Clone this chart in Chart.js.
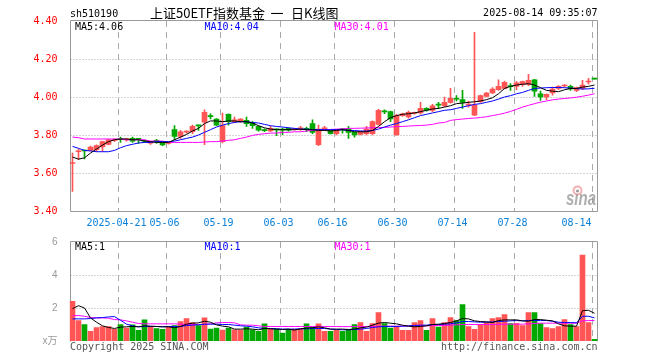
<!DOCTYPE html>
<html><head><meta charset="utf-8">
<script src="https://cdn.jsdelivr.net/npm/chart.js@4/dist/chart.umd.min.js"></script>
<style>
html,body{margin:0;padding:0;background:#fff;}
#wrap{position:relative;width:660px;height:360px;overflow:hidden;background:#fff;}
canvas{position:absolute;left:0;}
#cPrice{top:0;}
#cVol{top:232px;}
</style></head><body>
<div id="wrap"><canvas id="cPrice" width="660" height="232"></canvas><canvas id="cVol" width="660" height="128"></canvas></div>
<script>
// ---------- data ----------
const dates = ['2025-04-09','2025-04-10','2025-04-11','2025-04-14','2025-04-15','2025-04-16','2025-04-17','2025-04-18','2025-04-21','2025-04-22','2025-04-23','2025-04-24','2025-04-25','2025-04-28','2025-04-29','2025-04-30',
'2025-05-06','2025-05-07','2025-05-08','2025-05-09','2025-05-12','2025-05-13','2025-05-14','2025-05-15','2025-05-16','2025-05-19','2025-05-20','2025-05-21','2025-05-22','2025-05-23','2025-05-26','2025-05-27','2025-05-28','2025-05-29','2025-05-30',
'2025-06-03','2025-06-04','2025-06-05','2025-06-06','2025-06-09','2025-06-10','2025-06-11','2025-06-12','2025-06-13','2025-06-16','2025-06-17','2025-06-18','2025-06-19','2025-06-20','2025-06-23','2025-06-24','2025-06-25','2025-06-26','2025-06-27','2025-06-30',
'2025-07-01','2025-07-02','2025-07-03','2025-07-04','2025-07-07','2025-07-08','2025-07-09','2025-07-10','2025-07-11','2025-07-14','2025-07-15','2025-07-16','2025-07-17','2025-07-18','2025-07-21','2025-07-22','2025-07-23','2025-07-24','2025-07-25','2025-07-28','2025-07-29','2025-07-30','2025-07-31',
'2025-08-01','2025-08-04','2025-08-05','2025-08-06','2025-08-07','2025-08-08','2025-08-11','2025-08-12','2025-08-13','2025-08-14'];

const open = [3.650,3.712,3.719,3.719,3.723,3.737,3.751,3.771,3.777,3.774,
3.782,3.779,3.769,3.757,3.769,3.761,3.756,3.828,3.793,3.815,
3.817,3.850,3.867,3.900,3.884,3.765,3.909,3.870,3.871,3.877,
3.863,3.845,3.826,3.822,3.829,3.829,3.835,3.830,3.828,3.832,
3.860,3.749,3.828,3.824,3.807,3.829,3.831,3.814,3.803,3.807,
3.807,3.856,3.924,3.923,3.800,3.902,3.895,3.914,3.916,3.940,
3.930,3.959,3.954,3.972,3.990,3.986,3.957,3.905,3.975,4.003,
4.021,4.038,4.045,4.057,4.056,4.066,4.066,4.091,4.017,4.000,
4.021,4.045,4.058,4.056,4.035,4.045,4.079,4.096];

const high = [3.705,3.726,3.721,3.742,3.748,3.768,3.779,3.780,3.789,3.782,
3.789,3.782,3.774,3.765,3.777,3.765,3.763,3.849,3.824,3.822,
3.852,3.852,3.933,3.912,3.887,3.916,3.912,3.894,3.887,3.894,
3.870,3.848,3.833,3.845,3.831,3.837,3.838,3.835,3.845,3.842,
3.880,3.852,3.845,3.826,3.830,3.835,3.845,3.817,3.820,3.845,
3.875,3.935,3.933,3.926,3.909,3.916,3.926,3.921,3.972,3.944,
3.961,3.972,4.000,4.045,4.007,4.035,3.979,4.340,4.010,4.025,
4.049,4.091,4.084,4.070,4.081,4.084,4.119,4.093,4.031,4.017,
4.052,4.060,4.065,4.063,4.052,4.088,4.098,4.096];

const low = [3.503,3.670,3.674,3.716,3.712,3.712,3.748,3.765,3.761,3.768,
3.761,3.756,3.762,3.750,3.756,3.744,3.752,3.775,3.782,3.810,
3.807,3.824,3.749,3.884,3.850,3.758,3.852,3.863,3.866,3.845,
3.835,3.820,3.817,3.817,3.796,3.802,3.820,3.826,3.824,3.817,
3.807,3.744,3.824,3.805,3.800,3.810,3.782,3.789,3.800,3.800,
3.800,3.852,3.912,3.870,3.799,3.898,3.888,3.909,3.909,3.926,
3.923,3.940,3.949,3.968,3.979,3.940,3.947,3.902,3.972,4.000,
4.017,4.035,4.042,4.035,4.038,4.056,4.060,4.003,3.982,3.986,
4.010,4.038,4.052,4.035,4.028,4.038,4.067,4.094];

const close = [3.655,3.715,3.716,3.737,3.744,3.765,3.775,3.773,3.775,3.776,
3.768,3.777,3.767,3.759,3.767,3.748,3.759,3.793,3.817,3.818,
3.845,3.848,3.919,3.897,3.852,3.849,3.870,3.880,3.884,3.860,
3.849,3.826,3.823,3.835,3.827,3.826,3.826,3.832,3.838,3.830,
3.814,3.831,3.838,3.807,3.828,3.827,3.814,3.800,3.817,3.831,
3.870,3.930,3.922,3.884,3.902,3.912,3.919,3.917,3.940,3.931,
3.954,3.957,3.972,3.993,3.988,3.972,3.959,3.958,4.007,4.021,
4.042,4.056,4.077,4.055,4.074,4.081,4.088,4.031,4.000,4.014,
4.042,4.056,4.061,4.042,4.049,4.063,4.082,4.094];

const ma5 = [3.684,3.673,3.680,3.705,3.726,3.747,3.765,3.775,3.779,3.779,
3.775,3.775,3.768,3.765,3.761,3.761,3.761,3.775,3.789,3.803,
3.821,3.835,3.860,3.874,3.874,3.870,3.874,3.874,3.870,3.870,
3.863,3.849,3.838,3.831,3.828,3.828,3.828,3.828,3.831,3.828,
3.828,3.824,3.824,3.821,3.824,3.828,3.824,3.817,3.817,3.817,
3.824,3.845,3.870,3.891,3.902,3.909,3.912,3.916,3.923,3.930,
3.937,3.940,3.947,3.954,3.965,3.968,3.972,3.975,3.979,3.986,
3.996,4.017,4.045,4.056,4.063,4.067,4.070,4.063,4.049,4.035,
4.031,4.028,4.038,4.045,4.045,4.052,4.056,4.063];

const ma10 = [3.740,3.730,3.719,3.716,3.712,3.712,3.712,3.719,3.733,3.744,
3.751,3.758,3.761,3.761,3.765,3.765,3.765,3.768,3.775,3.782,
3.789,3.800,3.814,3.828,3.842,3.852,3.860,3.866,3.870,3.870,
3.866,3.863,3.856,3.849,3.845,3.842,3.838,3.835,3.831,3.831,
3.828,3.828,3.828,3.828,3.828,3.828,3.824,3.824,3.821,3.821,
3.824,3.831,3.842,3.852,3.860,3.870,3.880,3.891,3.902,3.909,
3.916,3.923,3.930,3.933,3.940,3.947,3.954,3.961,3.965,3.972,
3.979,3.989,4.000,4.007,4.017,4.024,4.035,4.045,4.047,4.049,
4.050,4.050,4.049,4.047,4.044,4.042,4.043,4.046];

const ma30 = [3.789,3.786,3.779,3.779,3.779,3.779,3.779,3.779,3.779,3.775,
3.775,3.775,3.775,3.768,3.768,3.768,3.761,3.761,3.761,3.761,
3.761,3.761,3.763,3.765,3.765,3.768,3.772,3.775,3.782,3.789,
3.798,3.803,3.807,3.810,3.810,3.814,3.814,3.817,3.817,3.821,
3.824,3.826,3.828,3.829,3.831,3.832,3.835,3.835,3.836,3.837,
3.838,3.839,3.840,3.842,3.844,3.845,3.847,3.849,3.850,3.852,
3.856,3.863,3.866,3.877,3.881,3.884,3.887,3.889,3.892,3.896,
3.902,3.908,3.915,3.924,3.935,3.947,3.956,3.965,3.973,3.979,
3.985,3.989,3.992,3.995,3.999,4.004,4.010,4.017];

const volume = [2.40,1.24,1.00,0.58,0.82,0.88,0.88,0.70,1.00,0.78,
0.98,0.64,1.28,0.84,0.76,0.70,0.84,0.94,1.18,1.36,
1.12,0.94,1.40,0.72,0.78,0.66,0.78,0.68,0.66,0.84,
0.68,0.58,1.04,0.72,0.72,0.48,0.70,0.72,0.72,1.04,
0.84,1.04,0.58,0.58,0.64,0.58,0.70,1.00,1.12,0.58,
1.06,1.72,1.06,0.78,0.88,0.64,0.64,1.12,1.24,0.64,
1.36,0.84,1.12,1.42,1.24,2.20,0.88,0.70,1.00,1.12,
1.36,1.42,1.60,1.06,1.06,0.94,1.72,1.72,1.06,0.82,
0.76,0.88,1.30,1.00,0.88,5.20,1.12,0.10];

const vma5 = [1.96,2.14,2.00,1.40,1.14,0.92,0.82,0.76,0.84,0.86,
0.88,0.86,0.92,0.90,0.88,0.86,0.86,0.80,0.88,1.02,
1.08,1.10,1.20,1.14,0.98,0.90,0.86,0.72,0.72,0.74,
0.72,0.68,0.76,0.74,0.72,0.70,0.72,0.66,0.74,0.78,
0.80,0.86,0.80,0.72,0.72,0.72,0.70,0.72,0.80,0.84,
0.96,1.08,1.12,1.08,1.04,0.96,0.90,0.86,0.88,0.92,
1.00,1.02,1.06,1.12,1.22,1.36,1.34,1.22,1.18,1.16,
1.12,1.24,1.28,1.28,1.28,1.22,1.20,1.30,1.30,1.26,
1.22,1.04,0.92,0.90,0.90,1.84,1.86,1.68];

const vma10 = [1.34,1.34,1.34,1.36,1.40,1.42,1.46,1.48,1.26,1.02,
0.92,0.86,0.88,0.88,0.88,0.86,0.88,0.88,0.88,0.94,
0.96,0.98,1.02,1.02,1.02,1.00,1.00,0.96,0.92,0.90,
0.86,0.80,0.76,0.76,0.74,0.72,0.72,0.72,0.74,0.74,
0.76,0.76,0.76,0.72,0.70,0.68,0.68,0.70,0.72,0.76,
0.82,0.86,0.88,0.88,0.88,0.90,0.92,0.94,0.96,0.96,
1.00,1.00,1.02,1.04,1.10,1.18,1.18,1.16,1.14,1.14,
1.16,1.18,1.20,1.22,1.24,1.22,1.24,1.24,1.24,1.24,
1.20,1.14,1.12,1.12,1.10,1.50,1.50,1.40];

const vma30 = [1.54,1.54,1.50,1.42,1.40,1.40,1.38,1.30,1.28,1.22,
1.14,1.06,1.04,1.04,1.04,1.04,1.04,1.04,1.02,1.00,
1.00,1.00,1.00,1.04,1.10,1.12,1.12,1.10,0.98,0.96,
0.96,0.92,0.88,0.88,0.88,0.88,0.88,0.88,0.88,0.88,
0.88,0.88,0.88,0.88,0.88,0.87,0.87,0.88,0.88,0.88,
0.88,0.90,0.90,0.90,0.90,0.90,0.90,0.91,0.92,0.92,
0.93,0.94,0.95,0.96,0.98,1.00,1.00,1.00,1.00,1.00,
1.00,1.01,1.02,1.02,1.02,1.02,1.04,1.06,1.08,1.08,
1.08,1.08,1.08,1.08,1.08,1.22,1.24,1.24];

const priceTicks = [3.40,3.60,3.80,4.00,4.20,4.40];
const volTicks = [0,2,4,6];
const xTickDates = ['2025-04-21','2025-05-06','2025-05-19','2025-06-03','2025-06-16','2025-06-30','2025-07-14','2025-07-28','2025-08-14'];
const xTickText  = ['2025-04-21','05-06','05-19','06-03','06-16','06-30','07-14','07-28','08-14'];
const maLegend  = ['MA5:4.06','MA10:4.04','MA30:4.01'];
const volLegend = ['MA5:1','MA10:1','MA30:1'];
const stockCode = 'sh510190';
const titleParts = ['上证50ETF指数基金', '一', '日K线图'];
const stampText = '2025-08-14 09:35:07';
const volUnit = 'x万';

// ---------- styles ----------
const UP = '#ff5555', DOWN = '#00a800';
const MA_COLORS = ['#000000', '#0000ff', '#ff00ff'];
const MONO = '10px "DejaVu Sans Mono", "Liberation Mono", monospace';
const GRID = '#aaaaaa';
const FRAME = '#999999';
const candleColor = close.map((c, i) => c >= open[i] ? UP : DOWN);
const tickIdx = xTickDates.map(d => dates.indexOf(d));
const legendX = [75, 204.5, 334.5];
const titleX = [150, 270.5, 291];

function lineDs(label, data, color, order) {
  return {type: 'line', label, data, borderColor: color, borderWidth: 1, pointRadius: 0,
          pointHoverRadius: 0, tension: 0, fill: false, order};
}
const xScale = {
  offset: true,
  grid: {display: false, offset: true},
  border: {display: false},
  ticks: {display: false, autoSkip: false},
  afterFit: s => { s.height = 0; }
};

// grid lines (dotted horizontal, dashed vertical) positioned by the chart's own scales
const gridPlugin = {
  id: 'gridLines',
  beforeDatasetsDraw(chart, args, opts) {
    const {ctx, chartArea: a, scales: {x, y}} = chart;
    ctx.save();
    ctx.strokeStyle = GRID; ctx.lineWidth = 1;
    ctx.setLineDash([1, 2]);
    opts.ticks.forEach(v => {
      if (v <= y.min || v >= y.max) return;
      const py = Math.round(y.getPixelForValue(v)) + 0.5;
      ctx.beginPath(); ctx.moveTo(a.left + 1, py); ctx.lineTo(a.right, py); ctx.stroke();
    });
    ctx.setLineDash([6, 5]);
    const slot = x.getPixelForValue(1) - x.getPixelForValue(0);
    tickIdx.forEach(i => {
      const px = Math.round(x.getPixelForValue(i) - slot / 2) + 0.5;
      ctx.beginPath(); ctx.moveTo(px, a.top); ctx.lineTo(px, a.bottom); ctx.stroke();
    });
    ctx.restore();
  }
};

const framePlugin = {
  id: 'frame',
  beforeDatasetsDraw(chart, args, opts) {
    const {ctx, chartArea: a} = chart;
    ctx.save();
    ctx.strokeStyle = FRAME; ctx.lineWidth = 1;
    ctx.beginPath();
    const L = a.left + 1, R = a.right, T = a.top - 0.5, B = a.bottom + 0.5;
    if (opts.bottom) { ctx.moveTo(L, B); ctx.lineTo(R, B); }
    ctx.moveTo(L, B); ctx.lineTo(L, T); ctx.lineTo(R, T); ctx.lineTo(R, B);
    ctx.stroke();
    ctx.restore();
  }
};

const priceText = {
  id: 'priceText',
  afterDraw(chart) {
    const {ctx, chartArea: a, scales: {x}} = chart;
    ctx.save();
    ctx.textBaseline = 'alphabetic';
    ctx.font = MONO; ctx.fillStyle = '#000';
    ctx.textAlign = 'left'; ctx.fillText(stockCode, 70, 17);
    ctx.textAlign = 'right'; ctx.fillText(stampText, a.right, 16);
    ctx.font = '13px "Noto Sans CJK SC"'; ctx.textAlign = 'left';
    titleParts.forEach((t, k) => ctx.fillText(t, titleX[k], 17.5));
    ctx.font = MONO;
    maLegend.forEach((t, k) => { ctx.fillStyle = MA_COLORS[k]; ctx.fillText(t, legendX[k], 29.5); });
    // date labels
    ctx.fillStyle = '#0b80d8'; ctx.textAlign = 'center';
    const slot = x.getPixelForValue(1) - x.getPixelForValue(0);
    tickIdx.forEach((i, k) => {
      const gx = x.getPixelForValue(i) - slot / 2;
      const t = xTickText[k];
      const w = ctx.measureText(t).width;
      let cx = gx - 1;
      if (cx + w / 2 > a.right - 4) cx = gx - w / 2;
      ctx.fillText(t, cx, 225.5);
    });
    // sina watermark
    ctx.strokeStyle = 'rgba(235,110,110,0.55)'; ctx.lineWidth = 2;
    ctx.beginPath(); ctx.arc(577.5, 190.5, 4, 0, Math.PI * 2); ctx.stroke();
    ctx.fillStyle = 'rgba(120,120,120,0.6)';
    ctx.beginPath(); ctx.arc(577.5, 191, 1.6, 0, Math.PI * 2); ctx.fill();
    ctx.save();
    ctx.translate(596, 204.5); ctx.scale(1, 1.3);
    ctx.font = 'italic bold 15px "Liberation Sans"'; ctx.textAlign = 'right';
    ctx.fillStyle = 'rgba(140,140,140,0.7)';
    ctx.fillText('sina', 0, 0);
    ctx.restore();
    ctx.restore();
  }
};

const volText = {
  id: 'volText',
  afterDraw(chart) {
    const {ctx, chartArea: a} = chart;
    ctx.save();
    ctx.textBaseline = 'alphabetic'; ctx.font = MONO; ctx.textAlign = 'left';
    volLegend.forEach((t, k) => { ctx.fillStyle = MA_COLORS[k]; ctx.fillText(t, legendX[k], 18); });
    ctx.fillStyle = '#555';
    ctx.fillText('Copyright 2025 SINA.COM', 70, 117.5);
    ctx.textAlign = 'right';
    ctx.fillText('http://finance.sina.com.cn', a.right, 117.5);
    ctx.restore();
  }
};

// ---------- price (K-line) chart ----------
new Chart(document.getElementById('cPrice'), {
  type: 'bar',
  data: {
    labels: dates,
    datasets: [
      lineDs('MA5', ma5, MA_COLORS[0], 0),
      lineDs('MA10', ma10, MA_COLORS[1], 1),
      lineDs('MA30', ma30, MA_COLORS[2], 2),
      {label: 'body', data: open.map((o, i) => [Math.min(o, close[i]), Math.max(o, close[i])]),
       backgroundColor: candleColor, barThickness: 5, grouped: false, minBarLength: 1, order: 3},
      {label: 'wick', data: low.map((l, i) => [l, high[i]]),
       backgroundColor: candleColor, barThickness: 1, grouped: false, minBarLength: 1, order: 4}
    ]
  },
  options: {
    responsive: false, animation: false, devicePixelRatio: 1, events: [],
    layout: {padding: {left: 0, right: 62.5, top: 21, bottom: 21}},
    plugins: {legend: {display: false}, tooltip: {enabled: false},
              frame: {bottom: true}, gridLines: {ticks: priceTicks}},
    scales: {
      x: xScale,
      y: {
        min: 3.4, max: 4.4,
        afterBuildTicks: s => { s.ticks = priceTicks.map(v => ({value: v})); },
        grid: {display: false},
        border: {display: false},
        ticks: {color: '#ff0000', font: {family: '"DejaVu Sans Mono"', size: 10}, padding: 4,
                callback: v => Number(v).toFixed(2)},
        afterFit: s => { s.width = 69.5; }
      }
    }
  },
  plugins: [gridPlugin, framePlugin, priceText]
});

// ---------- volume chart ----------
new Chart(document.getElementById('cVol'), {
  type: 'bar',
  data: {
    labels: dates,
    datasets: [
      lineDs('MA5', vma5, MA_COLORS[0], 0),
      lineDs('MA10', vma10, MA_COLORS[1], 1),
      lineDs('MA30', vma30, MA_COLORS[2], 2),
      {label: 'volume', data: volume, backgroundColor: candleColor, barThickness: 5, grouped: false, order: 3}
    ]
  },
  options: {
    responsive: false, animation: false, devicePixelRatio: 1, events: [],
    layout: {padding: {left: 0, right: 62.5, top: 9, bottom: 19}},
    plugins: {legend: {display: false}, tooltip: {enabled: false},
              frame: {bottom: false}, gridLines: {ticks: volTicks}},
    scales: {
      x: xScale,
      y: {
        min: 0, max: 6,
        afterBuildTicks: s => { s.ticks = volTicks.map(v => ({value: v})); },
        grid: {display: false},
        border: {display: false},
        ticks: {color: '#999999', font: {family: '"Liberation Sans", "Noto Sans CJK SC"', size: 10}, padding: 4,
                callback: v => v === 0 ? volUnit : String(v)},
        afterFit: s => { s.width = 69.5; }
      }
    }
  },
  plugins: [gridPlugin, framePlugin, volText]
});
</script>
</body></html>
